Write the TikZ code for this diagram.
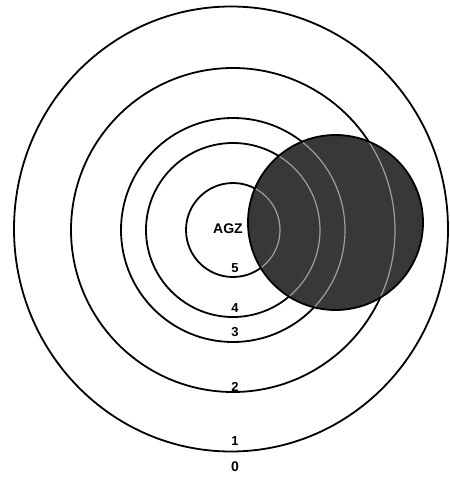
\documentclass[tikz,border=0pt]{standalone}
\usepackage{fontspec}
\setmainfont{Liberation Sans}
\begin{document}
\begin{tikzpicture}[x=1pt,y=-1pt,
  ring/.style={draw=black,line width=1.8pt},
  ringin/.style={draw=white!62!black,line width=1.2pt},
  shade/.style={fill=black!78},
  lab/.style={font=\fontsize{13}{15}\selectfont\bfseries,inner sep=0pt},
  biglab/.style={font=\fontsize{14}{16}\selectfont\bfseries,inner sep=0pt}]
\useasboundingbox (0,0) rectangle (449,478);
\fill[white] (0,0) rectangle (449,478);
\coordinate (c) at (233,230);
\coordinate (s) at (335.5,222.5);
% outer ring
\draw[ring] (231,229) ellipse [x radius=217, y radius=222.5];
% inner rings
\foreach \r in {162,112,87,47} \draw[ring] (c) circle[radius=\r];
% shaded disc
\fill[shade] (s) circle[radius=87.5];
\begin{scope}
  \clip (s) circle[radius=86.5];
  \foreach \r in {162,112,87,47} \draw[ringin] (c) circle[radius=\r];
\end{scope}
\draw[ring] (s) circle[radius=87.5];
% labels
\node[biglab] (agz) at (228,229) {AGZ};
\node[lab] (l5) at (235,268) {5};
\node[lab] (l4) at (235,308) {4};
\node[lab] (l3) at (235,332) {3};
\node[lab] (l2) at (235,387) {2};
\node[lab] (l1) at (235,441) {1};
\node[biglab] (l0) at (235,467) {0};
\end{tikzpicture}
\end{document}
